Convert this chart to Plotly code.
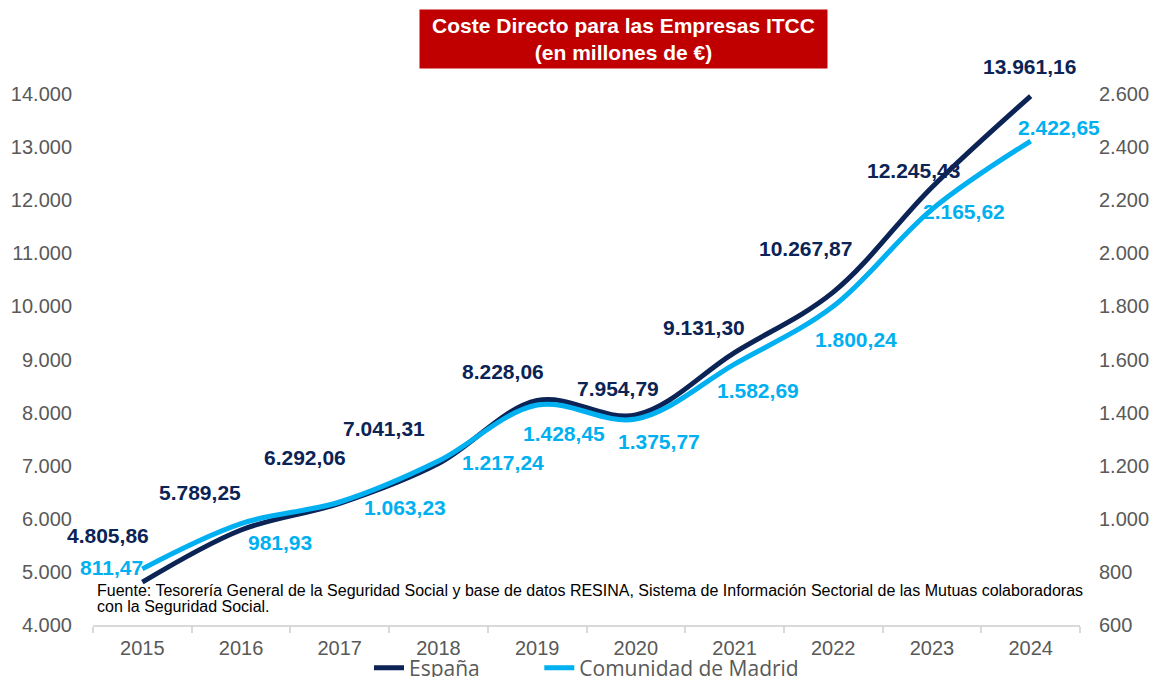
import plotly.graph_objects as go

years = ["2015", "2016", "2017", "2018", "2019", "2020", "2021", "2022", "2023", "2024"]
espana = [4805.86, 5789.25, 6292.06, 7041.31, 8228.06, 7954.79, 9131.30, 10267.87, 12245.43, 13961.16]
madrid = [811.47, 981.93, 1063.23, 1217.24, 1428.45, 1375.77, 1582.69, 1800.24, 2165.62, 2422.65]
left_ticks = [4000, 5000, 6000, 7000, 8000, 9000, 10000, 11000, 12000, 13000, 14000]
right_ticks = [600, 800, 1000, 1200, 1400, 1600, 1800, 2000, 2200, 2400, 2600]
series_names = ["España", "Comunidad de Madrid"]
source_lines = [
    "Fuente: Tesorería General de la Seguridad Social y base de datos RESINA, Sistema de Información Sectorial de las Mutuas colaboradoras",
    "con la Seguridad Social.",
]


def es_fmt(v, dec=2):
    s = f"{v:,.{dec}f}"
    return s.replace(",", "X").replace(".", ",").replace("X", ".")


# label offsets (pixels) relative to each point
esp_off = [(-34, 47), (-41, 37), (-35, 46), (-54, 35), (-34, 29), (-18, 27), (-31, 25), (-28, 44), (-18, 17), (-1, 30)]
mad_off = [(-31, 1), (39, -19), (65, -5), (65, -1), (27, -28), (23, -22), (23, -26), (23, -33), (32, -2), (28, 14)]

navy = "#0B2355"
light = "#00B0F0"
FONT = "Liberation Sans, Arial"
PAD = "\u00a0" * 10  # spacing between legend entries

fig = go.Figure()
fig.add_trace(go.Scatter(x=years, y=espana, name=series_names[0] + PAD, mode="lines",
                         line=dict(color=navy, width=5, shape="spline", smoothing=1.0), yaxis="y"))
fig.add_trace(go.Scatter(x=years, y=madrid, name=series_names[1], mode="lines",
                         line=dict(color=light, width=5, shape="spline", smoothing=1.0), yaxis="y2"))

ann = []
for i, v in enumerate(espana):
    ann.append(dict(x=i, y=v, xref="x", yref="y", text=f"<b>{es_fmt(v)}</b>", showarrow=False,
                    xshift=esp_off[i][0], yshift=esp_off[i][1],
                    font=dict(family=FONT, size=21, color=navy)))
for i, v in enumerate(madrid):
    ann.append(dict(x=i, y=v, xref="x", yref="y2", text=f"<b>{es_fmt(v)}</b>", showarrow=False,
                    xshift=mad_off[i][0], yshift=mad_off[i][1],
                    font=dict(family=FONT, size=21, color=light)))

src_y = [0.0659, 0.0339]
for line, yy in zip(source_lines, src_y):
    ann.append(dict(xref="paper", yref="paper", x=0.002, y=yy, xanchor="left", yanchor="middle", align="left",
                    text=line, showarrow=False, font=dict(family=FONT, size=16, color="#000000")))

ann.append(dict(xref="paper", yref="paper", x=0.5375, y=1.1036, xanchor="center", yanchor="middle",
                text="<b>Coste Directo para las Empresas ITCC<br>(en millones de €)</b>", showarrow=False,
                bgcolor="#C00000", width=407, height=58, borderpad=0,
                font=dict(family=FONT, size=21, color="#FFFFFF")))

fig.update_layout(
    width=1153, height=677,
    margin=dict(l=93, r=73, t=94, b=52, autoexpand=False),
    plot_bgcolor="white", paper_bgcolor="white",
    showlegend=True,
    legend=dict(orientation="h", x=0.5, xanchor="center", y=-0.081, yanchor="middle",
                bgcolor="rgba(0,0,0,0)",
                font=dict(family="Open Sans", size=21, color="#595959"), tracegroupgap=0),
    annotations=ann,
    xaxis=dict(type="category", showgrid=False, showline=True, linecolor="#D9D9D9", linewidth=2,
               ticks="outside", tickson="boundaries", ticklen=6, tickcolor="#D9D9D9", tickwidth=2,
               ticklabelstandoff=4,
               tickfont=dict(family=FONT, size=20, color="#595959"), range=[-0.5, 9.5]),
    yaxis=dict(range=[4000, 14000], tickvals=left_ticks, ticktext=[es_fmt(t, 0) for t in left_ticks],
               showgrid=False, zeroline=False, showline=False, ticks="", ticklabelstandoff=20,
               tickfont=dict(family=FONT, size=20, color="#595959")),
    yaxis2=dict(range=[600, 2600], tickvals=right_ticks, ticktext=[es_fmt(t, 0) for t in right_ticks],
                overlaying="y", side="right", showgrid=False, zeroline=False, showline=False, ticks="",
                ticklabelstandoff=18,
                tickfont=dict(family=FONT, size=20, color="#595959")),
)

fig.write_html("out.html", config={"displayModeBar": False},
               post_script="document.body.style.margin='0px';document.body.style.overflow='hidden';")
